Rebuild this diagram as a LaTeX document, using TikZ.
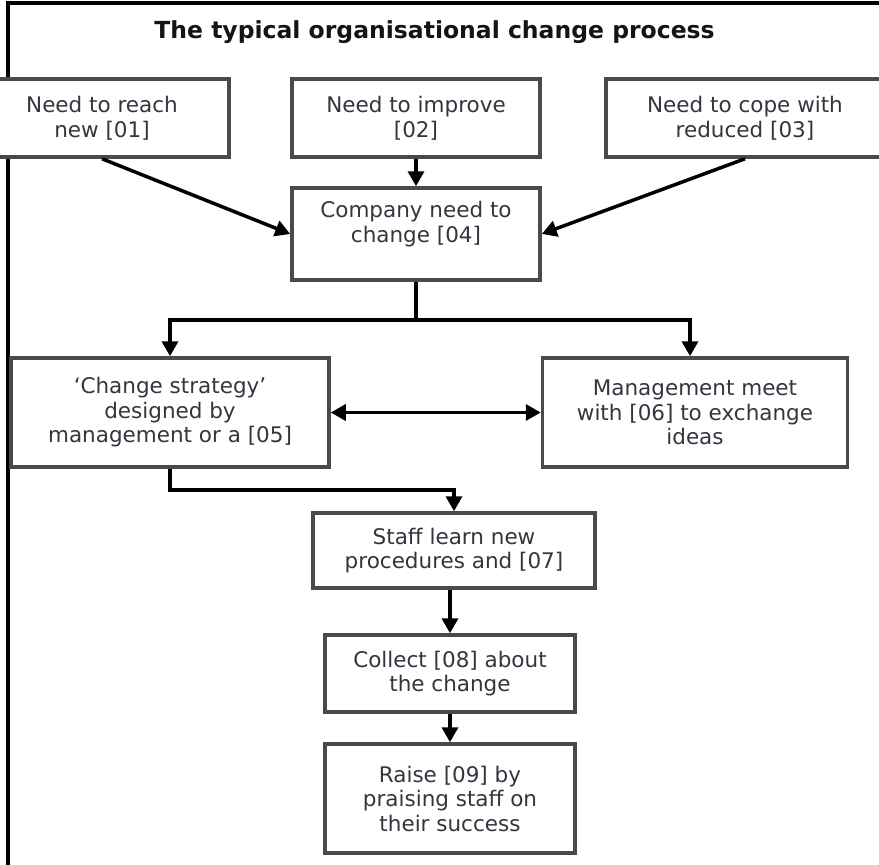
\documentclass[tikz,border=0pt]{standalone}
\usepackage{fontspec}
\setmainfont{DejaVu Sans}
\usetikzlibrary{arrows.meta,calc}
\definecolor{boxline}{HTML}{4A4A4A}
\definecolor{txt}{HTML}{38343F}
\tikzset{
  stepbox/.style={draw=boxline, line width=3.5pt, fill=white, align=center, text=txt,
    inner sep=0pt, font=\fontsize{21.5pt}{24.5pt}\selectfont},
  arr/.style={line width=3.5pt, -{Triangle[length=15pt,width=16pt]}},
  darr/.style={line width=3.5pt, {Triangle[length=15pt,width=16pt]}-{Triangle[length=15pt,width=16pt]}},
  conn/.style={line width=3.5pt},
}
\begin{document}
\begin{tikzpicture}[x=1pt,y=-1pt]
\useasboundingbox (0,0) rectangle (879,865);
\clip (0,0) rectangle (879,865);
\fill[white] (0,0) rectangle (879,865);
% frame
\draw[line width=3.5pt,line cap=rect] (8,865) -- (8,3) -- (879,3);
% title
\node[anchor=base, font=\fontsize{23.5pt}{28pt}\selectfont\bfseries, text=black!92, inner sep=0pt] (title) at (434.5,38) {The typical organisational change process};
% boxes
\node[stepbox, minimum width=254pt, minimum height=78pt] (n1) at (102,118) {Need to reach\\new [01]};
\node[stepbox, minimum width=248pt, minimum height=78pt] (n2) at (416,118) {Need to improve\\{[02]}};
\node[stepbox, minimum width=278pt, minimum height=78pt] (n3) at (745,118) {Need to cope with\\reduced [03]};
\node[stepbox, minimum width=248pt, minimum height=92pt] (n4) at (416,234) {Company need to\\change [04]\\\mbox{}};
\node[stepbox, minimum width=318pt, minimum height=109pt] (n5) at (170,412.5) {`Change strategy'\\designed by\\management or a [05]};
\node[stepbox, minimum width=305pt, minimum height=109pt] (n6) at (695,412.5) {Management meet\\with [06] to exchange\\ideas};
\node[stepbox, minimum width=282pt, minimum height=75pt] (n7) at (454,550.5) {Staff learn new\\procedures and [07]};
\node[stepbox, minimum width=250pt, minimum height=77pt] (n8) at (450,673.5) {Collect [08] about\\the change};
\node[stepbox, minimum width=250pt, minimum height=109pt] (n9) at (450,798.5) {Raise [09] by\\praising staff on\\their success};
% connectors
\draw[arr] (n1.south) -- (n4.west);
\draw[arr] (n3.south) -- (n4.east);
\draw[arr] (n2.south) -- (n4.north);
\draw[conn] (n4.south) -- ++(0,38) coordinate (j);
\coordinate (jl) at (n5.north |- j);
\coordinate (jr) at ($(n6.north |- j)+(-5,0)$);
\draw[conn,line cap=rect] (jl) -- (jr);
\draw[arr] (jl) -- (n5.north);
\draw[arr] (jr) -- ($(n6.north)+(-5,0)$);
\draw[darr] (n5.east) -- (n6.west);
\draw[arr] (n5.south) -- ++(0,21) -| (n7.north);
\draw[arr] (n8.north |- n7.south) -- (n8.north);
\draw[arr] (n8.south) -- (n9.north);
\end{tikzpicture}
\end{document}
